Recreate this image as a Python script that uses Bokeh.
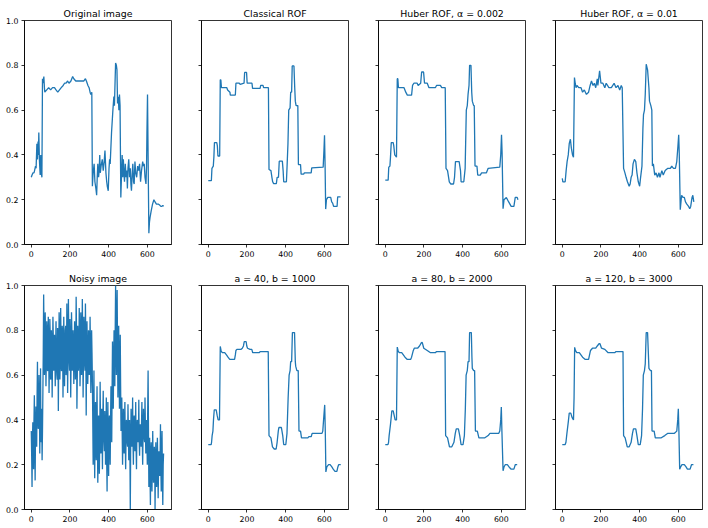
from bokeh.plotting import figure
from bokeh.layouts import column, row
from bokeh.models import Range1d, FixedTicker, PrintfTickFormatter, CustomJSTickFormatter
from bokeh.embed import file_html
from bokeh.resources import INLINE

# ---------------- data ----------------
orig_x = [0, 4, 9, 14, 17, 22, 25, 29, 32, 35, 37, 39, 42, 46, 49, 52, 55, 58, 61, 65, 68, 70, 80, 90, 100, 110, 120, 128, 137, 146,
          155, 165, 172, 180, 188, 195, 205, 214, 220, 230, 245, 260, 272, 280, 285, 293, 299, 304, 308, 313, 316, 320, 325, 329,
          334, 338, 341, 344, 348, 351, 354, 357, 361, 367, 372, 377, 381, 386, 390, 393, 398, 402, 405, 408, 415, 422, 427, 430,
          434, 436, 440, 443, 446, 450, 453, 456, 459, 463, 467, 470, 473, 476, 479, 482, 486, 490, 494, 497, 500, 504, 508, 512,
          515, 518, 522, 525, 529, 532, 536, 540, 545, 550, 555, 560, 565, 570, 576, 580, 584, 588, 593, 596, 598, 601, 604, 608,
          611, 614, 620, 627, 634, 640, 647, 652, 658, 665, 670, 675, 680, 684]
orig_y = [0.30, 0.31, 0.32, 0.32, 0.33, 0.35, 0.34, 0.45, 0.38, 0.46, 0.40, 0.50, 0.38, 0.31, 0.40, 0.32, 0.30, 0.74, 0.72, 0.75,
          0.70, 0.68, 0.69, 0.70, 0.69, 0.70, 0.70, 0.69, 0.68, 0.69, 0.70, 0.71, 0.72, 0.72, 0.73, 0.72, 0.73, 0.75, 0.74, 0.73,
          0.73, 0.73, 0.73, 0.74, 0.73, 0.71, 0.70, 0.68, 0.67, 0.68, 0.26, 0.32, 0.36, 0.28, 0.25, 0.22, 0.30, 0.36, 0.30, 0.33,
          0.40, 0.32, 0.35, 0.38, 0.33, 0.37, 0.42, 0.32, 0.28, 0.26, 0.24, 0.34, 0.38, 0.36, 0.50, 0.60, 0.66, 0.62, 0.75, 0.81,
          0.80, 0.78, 0.63, 0.66, 0.60, 0.67, 0.62, 0.21, 0.32, 0.40, 0.30, 0.38, 0.32, 0.28, 0.36, 0.30, 0.33, 0.25, 0.34, 0.38,
          0.30, 0.34, 0.27, 0.24, 0.32, 0.36, 0.28, 0.27, 0.37, 0.32, 0.30, 0.35, 0.33, 0.36, 0.28, 0.33, 0.37, 0.35, 0.36, 0.30,
          0.27, 0.35, 0.50, 0.67, 0.40, 0.05, 0.10, 0.12, 0.15, 0.18, 0.20, 0.19, 0.18, 0.18, 0.18, 0.175, 0.17, 0.17, 0.175, 0.17]

rof_x = [0, 16, 19, 26, 29, 32, 44, 47, 50, 59, 62, 65, 68, 96, 100, 112, 114, 140, 143, 160, 165, 185, 188, 198, 201, 226, 229,
         268, 271, 283, 286, 311, 314, 324, 329, 333, 338, 352, 356, 363, 367, 383, 387, 390, 404, 407, 412, 416, 423, 426, 431,
         434, 443, 447, 450, 454, 463, 466, 477, 480, 493, 497, 532, 535, 594, 598, 601, 604, 607, 611, 618, 633, 638, 643, 648,
         666, 669, 684]
rof_y = [0.285, 0.285, 0.34, 0.35, 0.39, 0.455, 0.455, 0.44, 0.395, 0.395, 0.735, 0.735, 0.70, 0.70, 0.69, 0.68, 0.667, 0.667,
         0.72, 0.72, 0.715, 0.72, 0.768, 0.768, 0.72, 0.72, 0.697, 0.697, 0.71, 0.71, 0.70, 0.70, 0.335, 0.33, 0.30, 0.28, 0.272,
         0.272, 0.30, 0.30, 0.372, 0.372, 0.33, 0.28, 0.28, 0.34, 0.45, 0.60, 0.61, 0.68, 0.68, 0.797, 0.797, 0.70, 0.64, 0.62,
         0.62, 0.357, 0.357, 0.314, 0.314, 0.32, 0.32, 0.342, 0.345, 0.42, 0.488, 0.35, 0.158, 0.20, 0.21, 0.21, 0.19, 0.185,
         0.17, 0.17, 0.213, 0.213]

hub1_x = [0, 15, 18, 24, 27, 31, 41, 44, 49, 58, 62, 65, 68, 97, 106, 114, 136, 141, 148, 165, 170, 183, 188, 198, 203, 217,
          226, 259, 265, 285, 292, 310, 314, 322, 331, 339, 353, 358, 363, 382, 389, 392, 406, 413, 419, 424, 428, 433, 436, 443,
          447, 450, 457, 460, 464, 474, 478, 491, 498, 523, 532, 592, 597, 601, 604, 609, 614, 626, 638, 651, 665, 672, 682, 686]
hub1_y = [0.287, 0.287, 0.345, 0.35, 0.39, 0.455, 0.455, 0.44, 0.40, 0.39, 0.74, 0.74, 0.70, 0.70, 0.68, 0.667, 0.667, 0.71,
          0.72, 0.72, 0.71, 0.72, 0.77, 0.77, 0.72, 0.72, 0.70, 0.70, 0.71, 0.71, 0.70, 0.70, 0.34, 0.33, 0.28, 0.27, 0.27, 0.30,
          0.37, 0.37, 0.33, 0.28, 0.28, 0.34, 0.60, 0.62, 0.67, 0.71, 0.80, 0.80, 0.68, 0.64, 0.62, 0.62, 0.35, 0.35, 0.31, 0.31,
          0.32, 0.32, 0.34, 0.345, 0.40, 0.49, 0.41, 0.16, 0.20, 0.21, 0.19, 0.17, 0.17, 0.21, 0.21, 0.20]

hub2_x = [0, 3, 15, 20, 25, 31, 36, 42, 47, 53, 58, 63, 67, 71, 76, 85, 97, 105, 114, 125, 136, 144, 151, 159, 166, 173, 181,
          184, 193, 200, 210, 220, 227, 241, 254, 268, 278, 288, 297, 305, 310, 317, 324, 330, 337, 346, 351, 356, 361, 366, 373,
          380, 386, 393, 400, 405, 412, 417, 420, 425, 429, 434, 441, 448, 451, 458, 463, 466, 471, 478, 485, 492, 500, 505, 515,
          522, 532, 546, 559, 566, 575, 585, 592, 598, 602, 605, 610, 617, 624, 631, 637, 644, 653, 659, 664, 671, 675, 680]
hub2_y = [0.295, 0.28, 0.28, 0.33, 0.37, 0.40, 0.45, 0.47, 0.43, 0.40, 0.39, 0.745, 0.72, 0.70, 0.71, 0.70, 0.70, 0.68, 0.69,
          0.67, 0.68, 0.71, 0.73, 0.71, 0.72, 0.70, 0.74, 0.71, 0.775, 0.72, 0.72, 0.70, 0.72, 0.70, 0.70, 0.72, 0.70, 0.71, 0.69,
          0.71, 0.70, 0.34, 0.32, 0.30, 0.28, 0.26, 0.27, 0.30, 0.31, 0.36, 0.38, 0.37, 0.32, 0.28, 0.26, 0.30, 0.35, 0.52, 0.58,
          0.60, 0.67, 0.805, 0.78, 0.70, 0.64, 0.62, 0.60, 0.35, 0.36, 0.31, 0.32, 0.30, 0.32, 0.30, 0.33, 0.31, 0.33, 0.34, 0.34,
          0.35, 0.34, 0.34, 0.37, 0.44, 0.49, 0.40, 0.155, 0.22, 0.21, 0.21, 0.19, 0.18, 0.17, 0.16, 0.17, 0.21, 0.22, 0.19]

# noisy signal: samples at x = 0, 4, 8, ... and the samples in between (x = 2, 6, 10, ...)
noisy_even = [0.35, 0.10, 0.39, 0.18, 0.51, 0.13, 0.46, 0.28, 0.66, 0.36, 0.60, 0.25, 0.63, 0.36, 0.22, 0.52,
              0.96, 0.60, 0.88, 0.55, 0.84, 0.62, 0.86, 0.52, 0.85, 0.58, 0.80, 0.50, 0.86, 0.62, 0.78, 0.55,
              0.84, 0.60, 0.81, 0.44, 0.88, 0.58, 0.90, 0.62, 0.82, 0.50, 0.86, 0.55, 0.80, 0.60, 0.92, 0.52,
              0.94, 0.66, 0.85, 0.50, 0.88, 0.62, 0.80, 0.56, 0.84, 0.58, 0.95, 0.45, 0.82, 0.62, 0.90, 0.55,
              0.88, 0.60, 0.94, 0.50, 0.86, 0.65, 0.92, 0.42, 0.84, 0.56, 0.80, 0.60, 0.86, 0.52, 0.80, 0.58,
              0.20, 0.62, 0.14, 0.48, 0.22, 0.55, 0.12, 0.42, 0.16, 0.57, 0.25, 0.45, 0.18, 0.53, 0.30, 0.44,
              0.20, 0.50, 0.08, 0.48, 0.15, 0.42, 0.20, 0.55, 0.30,
              0.75, 0.45, 0.80, 0.55, 1.00, 0.60, 0.98, 0.50, 0.82, 0.45, 0.78, 0.35, 0.50,
              0.20, 0.45, 0.25, 0.48, 0.18, 0.40, 0.30, 0.47, 0.22, 0.40, 0.00, 0.45, 0.28, 0.50, 0.20, 0.42,
              0.26, 0.48, 0.18, 0.40, 0.30, 0.49, 0.24, 0.38, 0.28, 0.48, 0.20, 0.45, 0.32, 0.50, 0.25, 0.40, 0.20,
              0.62, 0.10, 0.32, 0.02, 0.30, 0.08, 0.35, 0.12, 0.28, 0.00, 0.30, 0.10, 0.32, 0.05, 0.26, 0.15,
              0.38, 0.08, 0.35, 0.02, 0.25]
noisy_mid = [0.25, 0.30, 0.22, 0.40, 0.30, 0.35, 0.42, 0.50, 0.45, 0.38, 0.48, 0.42, 0.30, 0.45, 0.35,
             0.70, 0.78, 0.65, 0.75, 0.68, 0.80, 0.62, 0.74, 0.66, 0.78, 0.60, 0.72, 0.68, 0.76, 0.64, 0.70,
             0.72, 0.66, 0.58, 0.76, 0.70, 0.80, 0.68, 0.74, 0.62, 0.78, 0.66, 0.72, 0.70, 0.82, 0.64, 0.76,
             0.70, 0.78, 0.62, 0.74, 0.68, 0.80, 0.65, 0.72, 0.70, 0.76, 0.66, 0.80, 0.60, 0.74, 0.68, 0.78,
             0.64, 0.82, 0.70, 0.76, 0.66, 0.80, 0.62, 0.74, 0.68, 0.70, 0.64, 0.78, 0.66, 0.72, 0.60, 0.70,
             0.40, 0.35, 0.30, 0.38, 0.28, 0.40, 0.32, 0.25, 0.36, 0.30, 0.38, 0.28, 0.34, 0.40, 0.32, 0.26,
             0.36, 0.30, 0.22, 0.34, 0.28, 0.38, 0.30, 0.40, 0.45, 0.55,
             0.60, 0.65, 0.70, 0.80, 0.75, 0.85, 0.72, 0.70, 0.65, 0.62, 0.55, 0.45, 0.35,
             0.32, 0.35, 0.38, 0.30, 0.33, 0.36, 0.28, 0.35, 0.32, 0.25, 0.30, 0.36, 0.33, 0.30, 0.38, 0.32,
             0.35, 0.28, 0.34, 0.36, 0.32, 0.30, 0.35, 0.33, 0.38, 0.30, 0.34, 0.36, 0.30, 0.38, 0.33, 0.30, 0.45,
             0.35, 0.20, 0.15, 0.25, 0.18, 0.22, 0.20, 0.15, 0.25, 0.18, 0.20, 0.16, 0.22, 0.18, 0.20, 0.22,
             0.18, 0.24, 0.15, 0.20]
noisy_y = []
for k, v in enumerate(noisy_even):
    noisy_y.append(v)
    if k < len(noisy_mid):
        noisy_y.append(noisy_mid[k])
noisy_x = list(range(0, 2 * len(noisy_y), 2))

a40_x = [0, 15, 17, 20, 24, 27, 31, 41, 46, 51, 58, 62, 66, 72, 85, 94, 102, 111, 136, 140, 143, 148, 170, 176, 182, 186, 196,
         199, 203, 216, 225, 230, 264, 268, 310, 314, 324, 332, 341, 351, 356, 362, 365, 378, 385, 390, 401, 407, 413, 418, 423,
         426, 431, 435, 446, 450, 452, 458, 465, 469, 477, 482, 515, 520, 532, 537, 588, 592, 597, 602, 605, 608, 613, 622, 630,
         639, 646, 655, 665, 670, 674, 685]
a40_y = [0.29, 0.29, 0.30, 0.33, 0.35, 0.40, 0.445, 0.445, 0.42, 0.40, 0.40, 0.728, 0.71, 0.70, 0.70, 0.69, 0.68, 0.67, 0.67,
         0.69, 0.71, 0.715, 0.715, 0.72, 0.73, 0.749, 0.749, 0.73, 0.72, 0.715, 0.715, 0.70, 0.70, 0.705, 0.705, 0.33, 0.32, 0.28,
         0.27, 0.27, 0.30, 0.35, 0.366, 0.366, 0.33, 0.29, 0.29, 0.34, 0.50, 0.60, 0.62, 0.66, 0.66, 0.79, 0.79, 0.66, 0.64, 0.62,
         0.62, 0.35, 0.35, 0.32, 0.32, 0.325, 0.325, 0.34, 0.34, 0.35, 0.41, 0.467, 0.35, 0.168, 0.19, 0.20, 0.20, 0.19, 0.18,
         0.17, 0.17, 0.19, 0.20, 0.20]

a80_x = [0, 14, 17, 20, 27, 34, 41, 46, 51, 58, 62, 66, 72, 85, 102, 114, 131, 136, 145, 150, 167, 177, 187, 191, 196, 199, 217,
         234, 259, 265, 309, 312, 322, 332, 344, 355, 362, 367, 378, 385, 392, 402, 409, 414, 418, 424, 428, 433, 436, 445, 448,
         450, 457, 462, 466, 476, 484, 515, 532, 541, 587, 592, 597, 600, 603, 609, 614, 620, 631, 640, 651, 665, 672, 682]
a80_y = [0.29, 0.29, 0.30, 0.33, 0.38, 0.44, 0.44, 0.42, 0.40, 0.40, 0.725, 0.71, 0.70, 0.70, 0.68, 0.67, 0.67, 0.68, 0.71,
         0.72, 0.72, 0.73, 0.745, 0.746, 0.73, 0.72, 0.71, 0.70, 0.70, 0.705, 0.705, 0.33, 0.32, 0.28, 0.28, 0.30, 0.34, 0.36,
         0.36, 0.33, 0.29, 0.29, 0.33, 0.45, 0.60, 0.62, 0.66, 0.66, 0.79, 0.79, 0.68, 0.63, 0.62, 0.62, 0.35, 0.35, 0.32, 0.32,
         0.33, 0.34, 0.34, 0.35, 0.40, 0.457, 0.35, 0.173, 0.19, 0.20, 0.20, 0.19, 0.18, 0.18, 0.20, 0.20]

a120_x = [0, 15, 19, 24, 31, 36, 44, 51, 58, 61, 64, 68, 75, 88, 105, 119, 136, 141, 146, 156, 173, 181, 190, 195, 203, 220, 237,
          271, 278, 314, 317, 325, 336, 346, 356, 363, 368, 380, 386, 393, 403, 410, 415, 419, 425, 429, 434, 441, 445, 448, 456,
          461, 464, 475, 481, 512, 530, 546, 580, 592, 597, 600, 603, 607, 612, 619, 631, 640, 647, 661, 668, 678]
a120_y = [0.29, 0.29, 0.30, 0.34, 0.39, 0.43, 0.43, 0.41, 0.40, 0.50, 0.724, 0.71, 0.70, 0.70, 0.68, 0.67, 0.67, 0.69, 0.71,
          0.72, 0.72, 0.73, 0.74, 0.74, 0.72, 0.715, 0.70, 0.70, 0.705, 0.705, 0.33, 0.32, 0.28, 0.28, 0.30, 0.34, 0.36, 0.36,
          0.33, 0.29, 0.29, 0.33, 0.45, 0.60, 0.62, 0.65, 0.79, 0.79, 0.70, 0.63, 0.62, 0.62, 0.35, 0.35, 0.32, 0.32, 0.33, 0.34,
          0.34, 0.35, 0.40, 0.45, 0.35, 0.18, 0.19, 0.20, 0.20, 0.19, 0.18, 0.18, 0.20, 0.20]

titles = ["Original image", "Classical ROF", "Huber ROF, \u03b1 = 0.002", "Huber ROF, \u03b1 = 0.01",
          "Noisy image", "a = 40, b = 1000", "a = 80, b = 2000", "a = 120, b = 3000"]
series = [(orig_x, orig_y), (rof_x, rof_y), (hub1_x, hub1_y), (hub2_x, hub2_y),
          (noisy_x, noisy_y), (a40_x, a40_y), (a80_x, a80_y), (a120_x, a120_y)]
x_ticks = [0, 200, 400, 600]
y_ticks = [0.0, 0.2, 0.4, 0.6, 0.8, 1.0]

FONT = "DejaVu Sans"
LINE = "#1f77b4"


def make_panel(i):
    col = i % 4
    top_row = i < 4
    p = figure(width=177, height=264, output_backend="svg", toolbar_location=None,
               x_range=Range1d(-35, 725), y_range=Range1d(0, 1),
               min_border_left=24, min_border_right=6,
               min_border_top=20 if top_row else 21,
               min_border_bottom=20 if top_row else 19)
    p.title.text = titles[i]
    p.title.align = "center"
    p.title.text_font = FONT
    p.title.text_font_size = "9.4px"
    p.title.text_font_style = "normal"
    p.title.text_color = "#000000"
    p.title.standoff = 4
    p.grid.visible = False
    p.outline_line_color = "#000000"
    p.outline_line_width = 0.8
    p.outline_line_alpha = 1.0
    for ax in (p.xaxis[0], p.yaxis[0]):
        ax.axis_line_color = "#000000"
        ax.axis_line_width = 0.8
        ax.major_tick_line_color = "#000000"
        ax.major_tick_line_width = 0.8
        ax.major_tick_out = 3
        ax.major_tick_in = 0
        ax.minor_tick_line_color = None
        ax.major_label_text_font = FONT
        ax.major_label_text_font_size = "7.8px"
        ax.major_label_text_color = "#000000"
        ax.major_label_standoff = 3
    p.xaxis[0].ticker = FixedTicker(ticks=x_ticks)
    p.yaxis[0].ticker = FixedTicker(ticks=y_ticks)
    if col == 0:
        p.yaxis[0].formatter = PrintfTickFormatter(format="%.1f")
    else:
        p.yaxis[0].formatter = CustomJSTickFormatter(code="return '';")
    xs, ys = series[i]
    p.line(xs, ys, line_color=LINE, line_width=1.3)
    return p


panels = [make_panel(i) for i in range(8)]
layout = column(row(*panels[:4], spacing=0), row(*panels[4:], spacing=0), spacing=0)

open("out.html", "w").write(file_html(layout, INLINE))
